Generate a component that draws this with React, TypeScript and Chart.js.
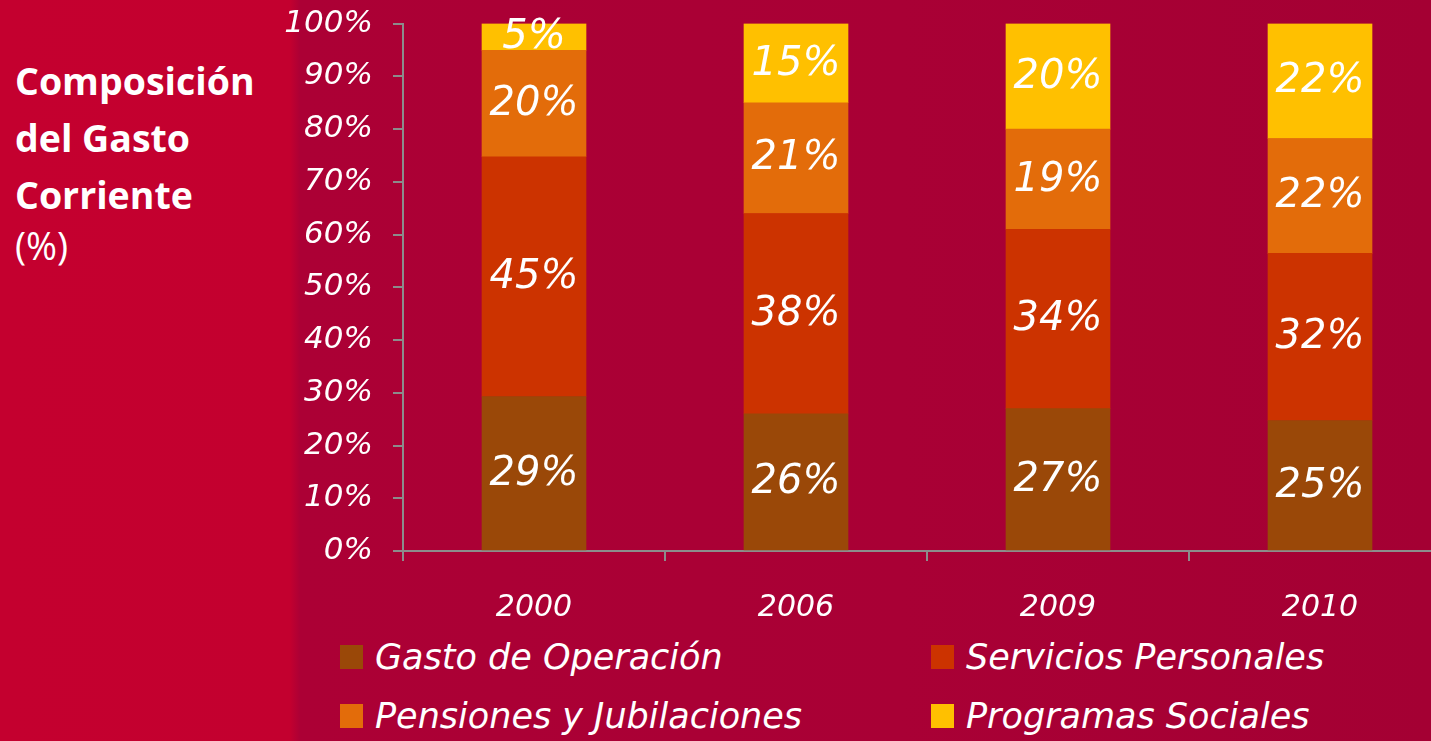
import React, { useEffect, useRef } from "react";
import { Chart, registerables } from "chart.js";

Chart.register(...registerables);

const years = ["2000", "2006", "2009", "2010"];
const gastoOperacion = [29, 26, 27, 25];
const serviciosPersonales = [45, 38, 34, 32];
const pensionesJubilaciones = [20, 21, 19, 22];
const programasSociales = [5, 15, 20, 22];
const yTicks = [0, 10, 20, 30, 40, 50, 60, 70, 80, 90, 100];

const seriesNames = [
  "Gasto de Operación",
  "Servicios Personales",
  "Pensiones y Jubilaciones",
  "Programas Sociales",
];
const seriesColors = ["#9A4808", "#CC3300", "#E36C0A", "#FFC000"];
const seriesValues = [gastoOperacion, serviciosPersonales, pensionesJubilaciones, programasSociales];

const FONT = "'DejaVu Sans', 'Open Sans', sans-serif";
const TITLE_FONT = "'Open Sans', 'DejaVu Sans', sans-serif";

export default function App() {
  const ref = useRef<HTMLCanvasElement>(null);

  useEffect(() => {
    document.body.style.margin = "0";
    const totals = years.map((_, i) => seriesValues.reduce((s, arr) => s + arr[i], 0));
    const datasets = seriesValues.map((vals, k) => ({
      label: seriesNames[k],
      data: vals.map((v, i) => (v / totals[i]) * 100),
      raw: vals,
      backgroundColor: seriesColors[k],
      borderWidth: 0,
      barThickness: 104,
    }));

    const labelPlugin = {
      id: "barLabels",
      afterDatasetsDraw(chart: any) {
        const ctx = chart.ctx;
        ctx.save();
        ctx.fillStyle = "#FFFFFF";
        ctx.font = `italic 40px ${FONT}`;
        ctx.textAlign = "center";
        ctx.textBaseline = "middle";
        chart.data.datasets.forEach((ds: any, di: number) => {
          const meta = chart.getDatasetMeta(di);
          meta.data.forEach((bar: any, i: number) => {
            const cy = (bar.y + bar.base) / 2;
            ctx.fillText(`${ds.raw[i]}%`, bar.x, cy + 1);
          });
        });
        ctx.restore();
      },
    };

    const chart = new Chart(ref.current!, {
      type: "bar",
      data: { labels: years, datasets: datasets as any },
      plugins: [labelPlugin],
      options: {
        animation: false,
        responsive: false,
        layout: { padding: { top: 5, right: 0, left: 0, bottom: 0 } },
        plugins: { legend: { display: false }, tooltip: { enabled: false } },
        scales: {
          x: {
            stacked: true,
            grid: {
              display: true,
              drawOnChartArea: false,
              drawTicks: true,
              tickLength: 10,
              color: "#8C8C8C",
              lineWidth: 2,
              offset: true,
            },
            border: { display: true, color: "#8C8C8C", width: 2 },
            ticks: {
              color: "#FFFFFF",
              font: { family: FONT, size: 30, style: "italic" },
              padding: 29,
            },
            afterFit: (s: any) => {
              s.height = 79;
            },
          },
          y: {
            stacked: true,
            min: 0,
            max: 100,
            afterBuildTicks: (s: any) => {
              s.ticks = yTicks.map((v) => ({ value: v }));
            },
            grid: {
              display: true,
              drawOnChartArea: false,
              drawTicks: true,
              tickLength: 10,
              color: "#8C8C8C",
              lineWidth: 2,
            },
            border: { display: true, color: "#8C8C8C", width: 2 },
            ticks: {
              color: "#FFFFFF",
              font: { family: FONT, size: 31, style: "italic" },
              padding: 20,
              callback: (v: any) => `${v}%`,
            },
            afterFit: (s: any) => {
              s.width = 133;
            },
          },
        },
      },
    });
    return () => chart.destroy();
  }, []);

  const legendItem = (k: number, left: number, top: number) => (
    <div
      key={k}
      style={{
        position: "absolute",
        left,
        top,
        display: "flex",
        alignItems: "center",
        color: "#FFFFFF",
        fontFamily: FONT,
        fontStyle: "italic",
        fontSize: 35,
        whiteSpace: "nowrap",
      }}
    >
      <span
        style={{
          display: "inline-block",
          width: 23,
          height: 24,
          background: seriesColors[k],
          marginRight: 12,
        }}
      />
      <span>{seriesNames[k]}</span>
    </div>
  );

  return (
    <div
      style={{
        position: "fixed",
        left: 0,
        top: 0,
        width: 1431,
        height: 741,
        overflow: "hidden",
        background:
          "linear-gradient(to right, #C4002F 0px, #C3002F 290px, #AC0035 300px, #A90035 900px, #A40033 1431px)",
      }}
    >
      <div
        style={{
          position: "absolute",
          left: 15,
          top: 52,
          color: "#FFFFFF",
          fontFamily: TITLE_FONT,
          fontSize: 37.5,
          lineHeight: "57px",
        }}
      >
        <div style={{ fontWeight: 700 }}>Composición</div>
        <div style={{ fontWeight: 700 }}>del Gasto</div>
        <div style={{ fontWeight: 700 }}>Corriente</div>
        <div style={{ fontWeight: 400, lineHeight: "40px", marginTop: 3 }}>(%)</div>
      </div>
      <canvas
        ref={ref}
        width={1181}
        height={645}
        style={{ position: "absolute", left: 270, top: -15 }}
      />
      {legendItem(0, 340, 637)}
      {legendItem(1, 931, 637)}
      {legendItem(2, 340, 696)}
      {legendItem(3, 931, 696)}
    </div>
  );
}
